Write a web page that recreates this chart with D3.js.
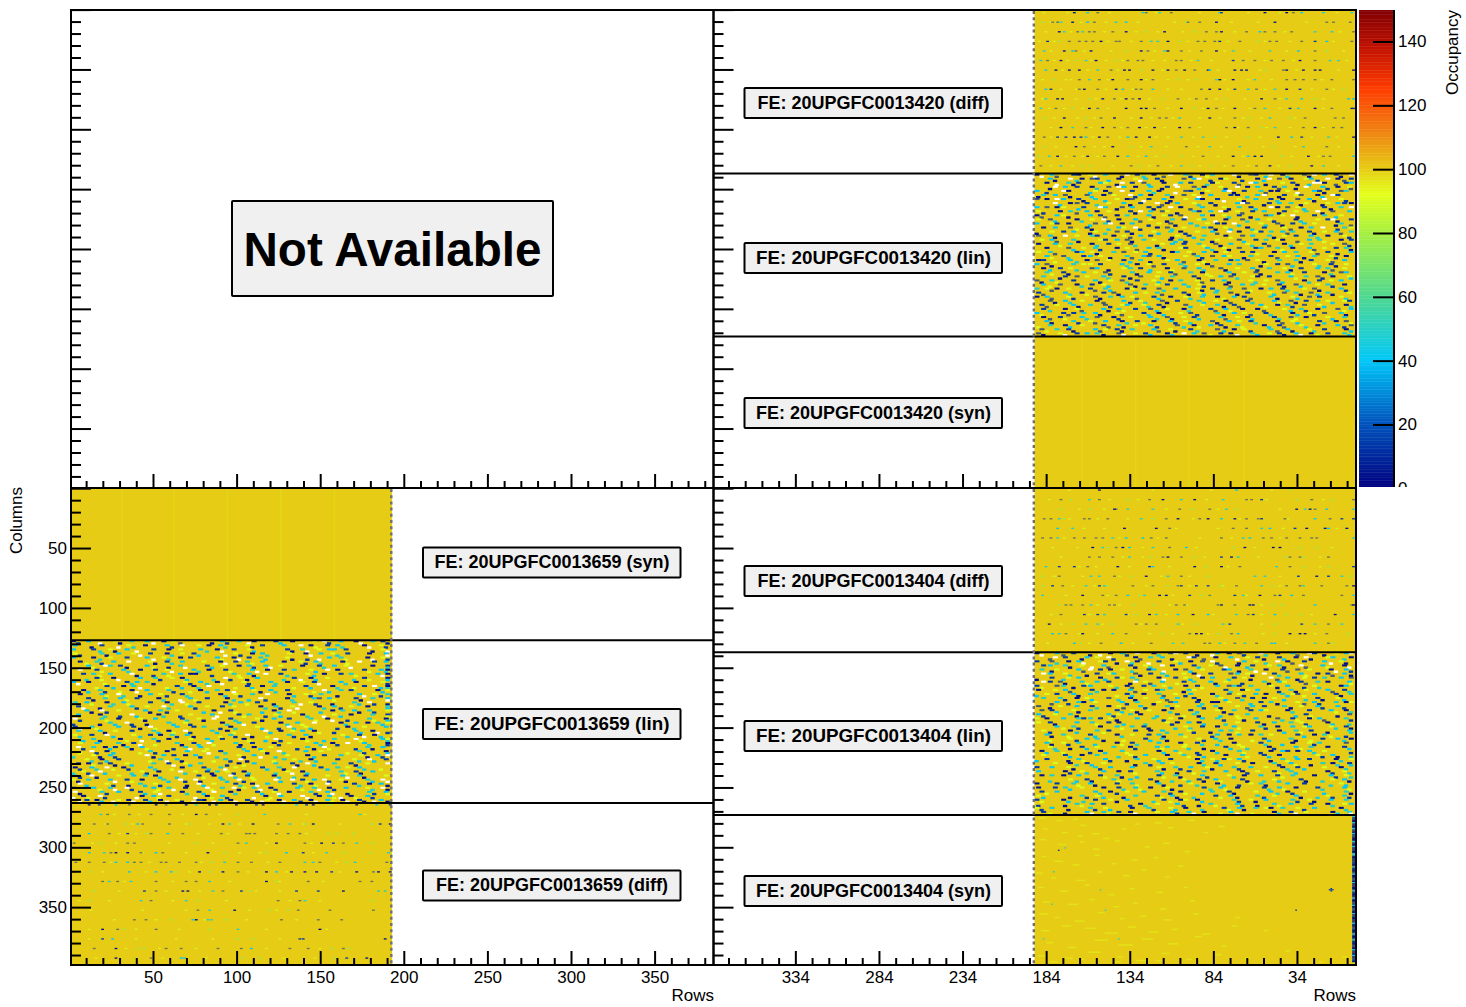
<!DOCTYPE html>
<html><head><meta charset="utf-8">
<script src="https://cdnjs.cloudflare.com/ajax/libs/d3/7.8.5/d3.min.js"></script>
<style>html,body{margin:0;padding:0;background:#fff}svg{display:block}text{font-family:"Liberation Sans",Arial,sans-serif}</style>
</head><body><svg id="c" width="1466" height="1007"></svg>
<script>
// ---- data (rows / columns / occupancy) ----
const xTickMajorLeft=[50,100,150,200,250,300,350];
const xTickMajorRight=[34,84,134,184,234,284,334];
const colTicksMajor=[0,50,100,150,200,250,300,350];
const paletteValues=[0,20,40,60,80,92,100,112,125,138,150];
const paletteColors=["#00007f","#0052bc","#00c8f8","#50d890","#a8f040","#e4ff1a","#e6cc14","#f08010","#ff3c00","#c01000","#7f0000"];
const occTicks=[0,20,40,60,80,100,120,140];
const baseOccupancy=100;
const classValue={a:4,b:14,c:26,d:40,e:48,f:76,g:90,h:10};
const feLabels=["FE: 20UPGFC0013420 (diff)","FE: 20UPGFC0013420 (lin)","FE: 20UPGFC0013420 (syn)","FE: 20UPGFC0013404 (diff)","FE: 20UPGFC0013404 (lin)","FE: 20UPGFC0013404 (syn)","FE: 20UPGFC0013659 (syn)","FE: 20UPGFC0013659 (lin)","FE: 20UPGFC0013659 (diff)"];
const bandRows=[1,9,17,25,33,41,49,57,65,73,81,89,97,105,113,121,129];
const diff420=[
"23a 31d 37h 64d 66h 74e 81h 110d 111b 137a 150a 154h 159d 172e 189e",
"4f 10h 13h 15e 22a 31d 35h 48e 54d 90f 91h 98h 108a 143a 174h 178h 188h",
"14a 17e 25h 28e 32h 35h 46h 54a 66f 77a 95f 102h 108h 111a 126h 134d 137h 143h 153h 167e 177e 191h",
"7b 14f 20h 26h 30h 34h 39a 48h 50h 63h 69e 73e 79a 86f 97h 101h 107h 110b 122h 133f 140h 144h 159h 167b 174d 189h",
"5e 17a 22d 24h 33a 54f 63a 67h 77e 79a 87h 99h 108a 118e 140e 157d 167h 174f",
"3e 7h 15a 24f 30e 36a 48f 55h 61h 64h 84h 87h 97e 118b 124h 131h 141h 148h 158a 167h 176e 181e",
"6d 12a 20a 26a 37e 45h 53a 56a 63f 70a 79a 84h 89a 95h 103a 104d 119a 123a 126a 137f 148h 150a 160a 167a 170a 191a",
"11f 26h 32e 38h 46a 55h 63a 70h 85f 96f 108e 110a 118a 131e 150h 155h 160h 167h 177h 190h",
"6d 9b 26h 29a 37h 48a 52d 60h 63h 70d 99h 104a 110a 119b 127d 132h 143e 150a 158b 174h 184f",
"6e 13a 16a 32f 40a 47h 54a 58h 62a 76f 85h 96h 102h 113f 135a 143h 150e 159d 167f 187d 191d",
"3e 12h 22f 32a 37h 54a 63a 66a 71h 87a 95f 103a 108h 119a 131h 137e 152b 157e 167a 177h 189a 191b",
"5f 17a 30f 39h 47a 63a 74h 78h 86e 104a 119h 127f 140e 152f 161h 179h 184h",
"15a 22e 30h 40a 47h 55h 62a 71a 86a 92h 114h 119a 127h 135f 143e 160h 167a 178h 183h",
"5h 13b 18b 23a 27b 30d 38a 43h 55d 60a 68a 87e 100e 107f 127f 145a 153d 159b 175e 191a",
"5f 24a 29h 46a 57f 69e 90h 104e 122e 142f 160e 174h 191f",
"2f 8e 13a 23h 31a 41h 49a 55d 66d 77f 87f 100h 118a 127d 131a 135a 147f 163a 172h 176h 191d",
"3h 15e 27f 33f 57h 62f 73h 87e 93f 105f 118h 132h 140a 152f 165a 172e 191f"];
const diff404=[
"38a 120d 152f",
"15h 21f 32e 38h 55f 68h 76a 87e 95a 112e 126h 129h 135b 156f 165h 177f 191h",
"15f 32f 47a 48h 55e 70e 86h 94f 104h 114e 120f 156a 161e 164a 167h 174d 191e",
"5h 9h 14e 17f 29h 32h 43h 63e 70f 78h 85a 98h 103a 111d 119a 126h 133h 135b 149h 167d 176h 183b 191b",
"13d 22e 53a 72a 80h 118h 126h 135e 140d 155b 162a 173a 175d 186a",
"4h 9h 13e 23h 29h 36h 40h 46e 54d 64d 69h 78h 111h 124e 128d 136h 141h 150h 158h 165h 168h 191e",
"34a 40e 43f 48h 52a 56d 70e 80h 90d 118f 125a 142a 146a 158f 168f",
"32h 38h 46h 56e 69f 76h 79a 87h 95f 111b 117a 121e 149f 152h 158h 160f 175h",
"6e 14b 23b 31h 49a 68b 70d 95a 102f 111a 122h 144e 152h 160f 175f 191b",
"4f 14h 33e 38e 47h 57f 66a 79e 87h 103f 131e 137e 157b 168a 175b 183e 188f",
"4f 10b 16h 30e 38b 41e 43f 58h 70h 79f 85h 87b 96b 103b 110f 120h 135e 142f 150h 158h 160e 171h 186h 191a",
"4e 28a 40h 48h 55d 62f 65e 74a 78a 92b 99f 104h 119b 124e 134a 143h 146b 153d 160h 183h 191e",
"14f 18h 21h 28h 33e 44h 47h 59f 70f 84h 89h 109h 111a 119h 128a 130a 142f 147f 167d 189h 191a",
"15h 29b 37b 41e 54b 60f 68a 72e 85d 94a 103d 120e 127h 130b 143d 150f 158f 179a 191e",
"8a 22f 30e 37e 46f 60h 66h 72h 85e 96f 112e 116b 143f 159b 167e 175h 183e",
"10d 14e 18h 28a 46d 54h 76f 92h 96a 99a 109f 117h 121d 143f 152a 158a 161a 174h 187f",
"23d 27f 39h 51d 69h 82e 88e 101h 104h 110e 119h 125e 132h 141d 143d 167e 175h 178f"];
const diff659=[
"10a 16b 26d 34h 50a 56h 68a 74e 82a 86b 98a 110b 114a 126f 134d 140b 144a 154f 170a 182d 190b",
"17e 21h 34h 47h 58h 80h 99f 115e 172e 74a",
"13h 21h 32f 39d 42h 58h 70f 90a 94e 108a 123h 130e 139f 144a 179f 184b 190a",
"10d 22h 33b 44f 47h 57d 66h 89h 104h 106h 109h 122h 129h 136h 153f 158f 168f",
"1h 17f 33h 37h 74f 99h 104e 122a 139h 149a 156b 162h 170e 179f",
"10d 19e 23h 26a 33a 41h 50d 54h 81a 91f 116f 128d 138b 152e 162f 178f 189d",
"2h 10h 19h 26d 33d 37h 41h 53h 56h 64h 74h 83f 91e 99h 107h 124h 139e 144e 148h 164f 169e 188h",
"1h 11f 34d 50d 59d 62f 76a 82f 90a 99h 116a 122d 131a 139a 146a 155b 170a 180h 183a 190a",
"18h 22e 27h 35e 50h 68h 74h 82e 116a 122f 141h 172h 179h",
"13f 43b 50h 66a 69a 84e 90h 101b 106f 134b 147b 162a 183e 187e",
"10f 41e 47h 68e 75f 123h 136h 139e 179f",
"75h 82e 97a 118f 129f 135h 154h 180h",
"37h 44h 59f 72d 74a 81e 83e 92f 125h 147h 161h",
"18a 27h 31f 50h 82f 99e 148a",
"18b 24d 99f 108f 136b 138b 187a",
"13h 26a 39f 43f 56h 65h 87h 101h 107d 130h 141h 155f 162h 165f",
"26a 38f 47h 65d 67d 102f 112f 157f 164b 176a"];
const lime420=[
"5 19 44 72 98 127 146 180","9 27 42 61 83 117 133 162","6 21 41 60 73 88 119 149 182","2 11 43 57 91 115 137 152 178","9 29 45 71 92 113 128 150 184",
"11 19 33 42 52 70 77 93 105 137 154 186","16 31 49 76 109 134 156 181","4 18 21 43 66 79 91 113 127 141 171","15 24 42 58 79 87 115 137 165 178",
"4 24 36 51 68 92 108 125 146 172","8 17 28 43 79 100 112 128 146 172","11 25 35 57 69 82 98 110 124 135 155","9 33 51 66 77 98 121 138 152 172",
"9 34 50 72 79 94 114 134 165 180","12 35 41 63 78 97 111 136 155 181","18 28 37 61 72 94 109 124 153 169","9 22 46 68 81 98 113 127 145 181"];
const lime404=["20 70 105 141","8 44 61 102 138 172","26 41 78 109 146","20 37 55 94 122 151","29 41 84 109 148 180","17 50 73 98 117 146","10 25 64 96 131 177","15 52 64 101 133 170","26 36 56 80 115 170","11 28 50 75 92 146","22 35 66 92 112 146","18 43 82 104 126","37 50 80 90 110 135","9 32 55 78 106 135 165","15 40 63 88 135","26 37 68 82 103 136 167","7 32 58 82 113 150"];
const lime659=["","25 40 66 88 140 175","20 36 68 82 100 138 160","28 38 75 93 140","12 26 58 84 116 143","42 68 100 112 144","23 46 77 117 158","18 44 70 105 128 160","31 60 94 124 150","28 56 76 110 124","4 22 60 92 130 148","11 42 68 106 122","25 50 79 104 134","10 38 64 116 152","10 38 62 84 124","32 52 74 116 148","14 54 80 126 145"];
const lin420=[
"aW.dH..ba.gW.d..Aw.bE.a.Hw..dB.aGd...wA.hb.Dw.aE..hAw.d.bA.w",
".B..aDw.h.a..gdB.w.aH.b..dA..wEa.hb.D.a..gWd.bA...h.dw.B.ag.",
"wa.H.bd..a.W.eAb...dg.Aw.b.hD..a.Wd.b..Eag..bH.wd.A..g.bA.Dw",
"..d.Ab.w..hDa..gB.w.a.d..bHe.A.w..dB.a.gH..Aw.d.b..aE.h.wd.a",
"a.g.W..dbA..he.d.B..wa...Dg.aH.w.b..dEa..W.hb.Ag..dwA.b..eHa",
".hD.a.g..wBd.a..eA.h.gW.d...ba.E.dw..Ab.gh..aD.wb...Ae.d.hA.",
"da..bW..gA.d..bEa..h.dA.w..gB.h.a.wd..bA.e.D.g.ah.Wb..dA..g.",
"..Ag.db.a...wD.ah.b.E.g..dA.b..wHa.d..gE.bA...dwh..Ab.d.e.Ag",
"b.w.a.H.d...gA.e.bD..wa.h.gD...bA.e.wd.h.ag..Db..we.Ah.d..bA",
".d..Ab.g.e.wA.h..d.gB..a.eH.d.a.g...bAw.d.hg.A..eb.d.wa.gH.b",
"gA...d.bH.a.e...dA.gb.hW..d.a.gE.b.A..hd.g.wA..b.e.Dg..aH..d",
"..bg.hD...aE.g.wB.a..dH.g..Ae.b..gd.W.a..hE.d.gB...aD..g.bwA",
"a.d..B.g.hA..dE.g.ba.wD...gE.hA.b.d.g...Ae.Hd..gb.a...Dh.ew.",
".gD..aE.b...gH.a.d.w..Be.g.a.d..hG.bA..E.dg.wB..a.hE.g...dbA",
"e..bA.g.dH.eA..g.b.d..Ag.E.h.bA...gD.e.aB.g..dH.w.a..gb.e.dH",
"..a.gH.d.b...Ag.bD.e...aG.h.d..eA.g.b..dE.a..gB.h.dA.w.g..eb",
"dB..e.Ag...hD.b.e.ga..H.d.eG..a.b.g.dH..eA...gb.d.hA.e.g..aD",
".g.hB.a..dG.e...aD.b.g.hE...Ag.d.b..eG.hA.d..gE.bH..aD.g.e..",
"a...hD.g.eB..a.g.H.d.eA..gb...dE.gA.h..bd..eG.a..dH.g.b.eA..",
".bG..a.d.e..gH.b.A..dg.eH...bd.gA..e.h.g.dB...ae.gH.d.a.g..b",
"h.dA...g.eB.h.dg..Ae...bH.g.dA.e..gB.a...dG.hE..bd.g.A..eH.d",
"..eA.b..gH.d..ab.G..dE.a.h.g..bD.e.A..g.dH..aG.e..bd.h.gA..e",
"g.b...dE.a.gH.b..eD.g.aH..d.e...Ag.b.hD...gE.bA.g.d.hA...e.g",
".hA.g..dB.e..gA.b..d.eH.g...aD.b.gE..hd.A..ge.b.D..aG.h..dE.",
"d...eG.bA..d.g.hB...eA.d.g.bH..e.aG...dB.g.hA..e.dG.b...aE.h",
".bA.h..gD.e...bA.g.d.hE..ga.b...dG.e.hB.a..gD.e..Ab.h.g..dE.",
"g.hD...aE.b.g.d..hA.eG..b...dA.g.hE.b..gD.a.e..gH.b.dA...gE.",
"..dE.gB...aH.d.e.g..bA.hD..g.eB.a...dG.h..aE.b.gD...hA.e.g.b",
"a.g...bH.eD..ag.b..hE.d...gA.bD.e..hG.a.d.bE..g.hA...dB.e.gH",
".hD.eA..g.bH...dE.aG..b.hA..d.g.eH...bA.gD.e..hA.b...gD.h.eA",
"e..aG.d.bH...eA..gD.h.b...gE.a.dH..gB...hA.e.d.gH..bD.a..gE.",
".gb...hA.dE.g..aH...dB.gE..hA.b...eD.g.aH..bE...dG.hA.b.e.gD",
"d..gE.bA...hD.g..eA.bH...dG.a.eB.h..gD...aE.bH.g..dA.e..hB.g",
".aH...gD.eB.a...hG.d.bE..a.gH...dA.eG.b..hD.g..aE...bH.dG.a.",
"b.e.dA..gH...bE.aD..g.hB...eA.d.gH..bE...aD.gB.h..eA.dG...bH",
"..gD.e...aH.bG..dE.h..aB.g...dE.hA.g.bD...eH.g.aD...bE.hG.a.",
"a..dB.gE...hA.d.g.bE...aH.gD...bE.a.hG..dA...eB.gH.d..aE.bG.",
".eG...aD.bH..gE.a...dB.hG.e..aD.g...bH.eA.g..dB...hE.aG.d.bA",
"g.bA.e...dH.gA..bE...hD.a.gB...eH.dA..gE.b...aD.hG.e.bA...dH",
".dW.aG.b..eD.hA..gW.b.d.eA..hW.g.bD..aE.w.d.hG.b.aW..eD.g.bA"];
const lin404=[
"aW..dH.b..A.W.a.dB.w..aE.hw.b.A..Wd.a.hB..wE.a..dH.wb.A.g.dw",
"..bD.a.wA..gd.E.a..Hw.b..Ad.g.wB...aH.e.d.A..wb.H.a..dW.g.bA",
"a.W.b..gD.a.h.wB...Ad.g.E.w.aH.b...dW.gA.b..hE.a.dW..gb.A.wE",
".dG..aW..bd..eA.g.W.dH...bA.gE.w.a...bD.g.hW.a.Db..g.eA..wH.",
"g...bd.A.eW.a..bH.h.g...aW.dB.e.Ag...dHw.b.a.g.E..bd.W.a.hD.",
".A.b.gd...hA.b.eD..g.aW.b...hd.gA.w.bE...dG.a.bH.d.A.wd..gE.",
"d.hA..b.Eg.d...aD.bg.dE...aW.b.gD.a.d..Eb.gA...wH.d.Ag.b.e..",
"..Gb.e..dA.g..B...eA.dg..bH.e.a...dG.wb.hA..eG.d.b...Aw.gH.d",
"b.e...gA.d..B.gE...ad.bG..he.A.bd...gE.aH.b.d.gE..a.bG..d.he",
".a..dH.g.be...Adg.....bE.ag.d...B.eA.g...dH.bE.a..g.dH...bEa",
"hG.d...bA.eD.g.b..dA.e....G.bD.a..eH.g.Bd...aE.h.gB.d.a..eDg",
"..eB.a.gD..h.E.bA.g..dH.e..bA...gD.hE.b.a.g.D...E.bA..gD...e",
"a.g...D.b.eA...gH.dB..e.ag...Hd.B.ea.g....dB.e..Ag.hd...bE.a",
".dB..h.A.g..d..bE.a.gH..dB...eAg...dB.eA..g.Hd.b...eA.g..dB.",
"g..aE...bD...gA.e..b.dg...aE..b...dG.aE.h.bD..gA.e....bD.gA.",
"...D.bG....A.h.dB.g..eA.....dBg.e.a..D...bG.eA...D.bG.e...A.",
"e.b.gA...d..e.Bg.a...d..eB..gA.d...hE.bG.a.dH...eBg.a..d..eb",
".aD...E.g...bA.d..e.gB...aD..E.g.bA...d..eG.b.aD...E...gBa.d",
"d...gE.bA....dG.eB...a..dG.e.bA....D.gE.b..a..dG...eB.a..d.g",
"..b..a.dE...gB..A.d.eG..b....aD.eG.b..A...dE.gB...aD...eGb..",
"a.e.g....bD.a.eG..B...dA.eG...bD...aE.g..b.dA..eG....Bd.a.e.",
".gB.d.eA...G...bD.eA.....gB.dE.a...G.bD...eA..G.b..dE.a..G..",
"h...dA.gB.e..D...aG.bE...d...aG.bE..D..aG...bE..D.a..gBe....",
".gE..A...bD.gE...aB...dG.e..a..bD...gE..A.bD.g..e..aB...dGe.",
"b.a.dE.g....B.aD.eG....B.aD..eG.....aD.eG..B..aD...eG..B.a.d",
"...E.gB.d...a..eG.bD...a..eG..bD.a..E...gB.dA..E.g...bD.a..e",
"g.dB....A.eG.d.b....aE.gD.b...A.eG...dB..A.e..gD.b....aE.gDb",
".aE.bD...g..aE.bD.g.....A.eB.d.g....aE.bD..g..a...eB.dG..A.e",
"d....gA.eB.d..gA...eB.d..g..aE.bD...g..aE.b..d..gA...eB.d...",
"..bG.eD.....aB.gE.d....aB.gE..d..a.bG...eD..A.bG.e...d..aB.g",
"e.a..d...bG.eA..D...bG.eA...dB...gE.a..d..bG.e...a..dB.gE.a.",
".dG...bA..E.gD...bA..E.g.dA...E...gD.bA...eG.d...bA..E.gD.bA",
"b....E.gD.a...b..eG.dA...b..eG...dA..B.gE...aD..B.g.eA...d..",
".gA.....bE.dG.a....bE.dG.a...bE...dG.a..b.eD.g...a..bE.dG.a.",
"....dE.aB.g..d...eB.aG..D.e..bA...g..dE.aB.g...D...eA.bG.d..",
".eB.gD....A.eB.gD...A.e...bG.dA..E...bG.dA...eB.g...dA..E.gB",
"g.aD.....eB.gA.d....eB.gA..d..e.bG...aD..E.b..gA.d....E.bG.a",
"...B.aE.g...dB..A.eG...dB..A..eG.d...b..aE.g.dB....A.eG.d.b.",
"a.e..gB.d....aE.gB.d..A...eB.gD...a..eB..gD.a..E...bG.dA.e.g",
".dW..G...aE.bW.g....aD.eW.bG..A...dW.eG.b.aW...g..dB.eW.a..G"];
const lin659=[
"aB.d.W..gA.e..dW.a.gH.....A.dB.e.Wa...bD.a...g.wB.d..aW.e.bG.A",
"..gA.b...d..w.aG.b.dE...aW.gB..d..A.b..W.gE.a...dB.w..g.a.dE.",
"d.b....A.gW.d...bE.gA.d.W..b..a.g...dE.aW.b..gD.....bA.eW.g.d",
"..aE.g.bD....W.gB.a.dE...g..aW.d.gE.b...a..dW.gB...eA.d..gW.b",
"W.gB.d...aE.g..b...dW.gE.a.b....dG.aW.b.eD...gA..B.W.d.eG...a",
".d...a..gB.dE...aG.w..b.d...aG.eB.d..w...gA.bE.d...g..aW.b.eG",
"e.bA...dG..A.eW...bD.g..a.eB.dW.g...a..bE.d.gW...a..bE...dG.w",
"..gD.w.a....bG.dE.a.w..bG...dE.a..b.gW...dE.a..bG...dW.a..b.e",
"a..B...eG.dA.w..bE...gD.a..b.eG...dW.a..b.eG.d...wA..B.eG.d.a",
".bG...aD..E.bG.aW...d..eB.g.aD....E.wB.gA.d....E.bW.aD.g....E",
"d.eA.....gB.dE.aW...gB...dE.a..g.bW...dE.a....gB.dW.a..G...bE",
"...G.bD...aE..G.b.wD.aE....G.bD.a.eW....G.bD.aE.w....G.bD.a.e",
"g...aD.eB..G.aW.d...eB..G.aD.e.bW...gA.dE.b....G.wD.e.b....aD",
".bE.....aD.gB.e..w...aD.gB.e..A...dW.gB.e..a...dG.wE..A.d.gB.",
"h.dG...bA.e..dW...bA.e..dG.b...aE..W.dG.b...aE..D.wB...aE...d",
"..aE.dG...b..aE.wG.b....aE.dG.b..A...eW.gB..A...eD.wB..A.e.dG",
"b.g....aE.dB.gW...aE.dB.g..a...eD.bW..A.e...dB.g..wE...dB.g..",
".dA.eB...g..dA.wB.g....dA.eB.g....D.aW.bG....D.aE.wG....D.a.e",
"e..B.gD...aE..W.gD.a...e..bG.d...aE..B.wD...aE..B.g...dW...bG",
"..gA.d....bE.gA.w..bE...gA.d..b...eG.aW..B...eG.aD.wB...eG.a.",
"a.eD.gB....A.eD.wB..A...eD.gB.....aE.dW.b....aE.dG.w....aE.d.",
"..B.aE...gD..B.wE.gD....B.aE.g...d..bW.eG...d..bA.wG...d..b.e",
"d.aG..B...eD.aW..B.e...dA.g..b...eD.aG.wB...eD.aG.....wD.a.g.",
".eB.dA....G.eB.wA..G...eB.dA.....gE.bW.aD...gE.b..wD...gE.b.a",
"g..D.eB...aG..W.eB.a...g..dE.b...aG..D.wB...aG..D.e...wG...dE",
".aB.g....dE.aB.w..dE...aB.g..d...eA.bW..G...eA.bD.wG...eA.b..",
"b.eA.dG....B.eW.dG.....bE.aD.g....B.eA.wG....B.eA.d...wB.e.aD",
"...G.eB...aD..G.wB.aD....G.eB.a...d..gW.bE...d..gA.wE...d..g.",
"a.dB..E...gA.dW..E.g...aD.b..e...gA.dB.wE...gA.dB.....wA.d.b.",
".gE.aD...b..gE.wD.b....gE.aD.b.....G.eW.dA.....G.eB.wA....G.e",
"h.bA.gD...e..bW.gD.e....B.aG.d...e..bA.wD...e..bA.g...w..b.aG",
".dE..G...aB.dE.wG.aB...dE..G.a...bD.eW.g....bD.eA.w....bD.e.g",
"e.gB.aD....E.gW.aD.....eG.bA.d....E.gB.wD....E.gB.a...wE.g.bA",
".aD..E...bG.aD.wE.bG...aD..E.b...g..dW.eA...g..dB.wA...g..d.e",
"d.wB.gA...eD.wW.gA.e...dW.bG.a...eD.wB.wA...eD.wB.g...wD.w.bG",
"..A.wD...gB..A.eD.gB....A.wD.g...bE.aW.d....bE.aG.w....bE.a.d",
"g.eW.aB...dG.eW.aB.d...gE.wA.b...dG.eW.wB...dG.eW.a...wG.e.wA",
".bD.gW...aE.bD.w..aE...bD.gW.a...eB.dW..A...eB.dG.wA...eB.d..",
"W.aG.dB....W.aG.wB.....Wa.dG.b....W.aG.dB....W.aG.d...wW.a.dG",
"a.Wd.aW.bA.Wg.aW.dB.aW.dG.aW.bA.Wd..A.Wb.aD.Wg.aW.bD.aW.gA.Wb"];
// hand-typed row offsets for the speckle rows above
const shift420=[0,23,7,41,15,52,30,9,37,19,55,3,44,26,12,48,33,6,58,21,39,14,50,27,2,45,17,35,56,10,29,4,43,20,53,8,38,24,47,13];
const shift404=[0,17,41,8,29,52,3,36,22,47,11,58,26,5,39,15,50,31,9,44,20,55,2,34,13,48,24,6,42,18,57,28,10,37,53,4,32,46,16,25];
const shift659=[0,31,12,46,5,27,54,19,38,8,49,23,2,42,15,57,33,10,28,51,6,36,18,44,1,25,53,13,40,21,56,9,34,47,16,3,29,50,11,37];
const syn659Columns=[30,61,93,125,157];
const syn420Columns=[28,60,92,125];
const syn404Streaks=[
"2:2:5","13:4:4","23:3:3","27:8:4","5:11:3","16:14:4","26:17:3","34:15:5","41:19:4","52:11:3","60:7:3","72:6:4","80:10:3","92:4:4","101:14:3","110:9:4",
"3:20:4","14:24:5","27:22:3","35:28:4","48:21:3","66:26:3","77:23:4","90:30:3","4:34:3","12:38:5","23:41:4","36:33:3","46:40:3","58:37:4","71:35:3","86:42:3",
"1:48:4","10:52:3","25:54:5","38:47:3","53:50:4","64:45:3","78:51:3","2:60:4","15:63:5","30:58:3","44:66:4","57:61:3","73:64:4","89:60:3","5:72:4","20:74:6",
"33:70:3","47:76:4","59:73:3","75:78:4","93:71:3","3:82:5","12:85:3","24:88:6","38:81:4","51:86:3","63:84:4","77:87:5","95:82:3","120:85:3","4:96:5","16:92:6",
"30:94:7","42:98:8","56:93:5","68:97:6","82:95:4","100:99:5","118:92:3","137:96:3","7:106:4","20:110:5","36:104:8","50:108:9","64:103:7","80:107:6","96:101:4","112:109:3",
"2:117:6","18:119:5","32:114:8","49:118:4","61:121:6","76:115:5","91:120:3","108:116:4","126:119:3","150:113:3","9:122:5","27:120:3","48:122:4","73:121:3","170:122:3","184:118:3"];
const syn404Outliers=["14:29:h","18:27:d","177:62:b","176:62:b","178:62:b","177:61:b","177:63:b","156:79:h","39:62:e","42:79:e","10:74:e","11:47:d","50:103:e","5:103:e"];
const syn404Edge="bdabaadbaabdbaadbbaaabdaabdaabaaddaabaabbaadabaabdaaabbadaabaabdabaaadbaabadaabbaadabaabaadbaabbaaadbaabdabaabaadbaabdaabba";

// ---- scales ----
const svg=d3.select("#c");
const xL=d3.scaleLinear().domain([0,384]).range([69.4,711.45]);
const xR=d3.scaleLinear().domain([0,384]).range([1353.8,711.75]);
const yT=d3.scaleLinear().domain([0,400]).range([9.6,488.4]);
const yB=d3.scaleLinear().domain([0,400]).range([488.2,967]);
const color=d3.scaleLinear().domain(paletteValues).range(paletteColors).clamp(true);
const occY=d3.scaleLinear().domain([0,150]).range([488.3,9.6]);

const leftCell=u=>xL(u+1), rightCell=u=>xR(191-u);
const cw=1.672, ch=1.197;
const g=svg.append("g");

function fill(cellX,y,c0,n){g.append("rect").attr("x",cellX(0)).attr("y",y(c0)).attr("width",cw*192).attr("height",y(c0+n)-y(c0)).attr("fill",color(baseOccupancy));}
function specks(cellX,y,c0,rows,limes){
  const d=[];
  limes.forEach((s,i)=>s.split(" ").filter(Boolean).forEach(t=>d.push({u:+t,c:c0+bandRows[i],k:"g"})));
  rows.forEach((s,i)=>s.split(" ").forEach(t=>{const m=t.match(/(\d+)([a-z])/);d.push({u:+m[1],c:c0+bandRows[i],k:m[2]});}));
  g.append("g").selectAll("rect").data(d).join("rect")
    .attr("x",k=>cellX(Math.min(k.u,190))).attr("y",k=>y(k.c)).attr("width",cw*1.7).attr("height",ch*1.1)
    .attr("fill",k=>color(classValue[k.k])).attr("opacity",k=>k.k==="h"?.55:(k.k==="g"?.8:1));
}
function speckle(cellX,y,c0,rows,shifts){
  const d=[];rows.forEach((s0,r)=>{const s=s0.slice(shifts[r])+s0.slice(0,shifts[r]);for(let i=0;i<s.length;i++){const c1=s[i];if(c1===".")continue;const low=c1.toLowerCase();
    d.push({u:Math.floor(i*3.2+(r%2)*1.6),c:c0+r*3.4+(c1!==low?1.7:0),k:low,upper:c1!==low});}});
  g.append("g").selectAll("rect").data(d).join("rect")
    .attr("x",k=>cellX(Math.min(k.u,188)))
    .attr("y",k=>y(Math.min(k.c,c0+134)))
    .attr("width",k=>cw*(k.upper?2.6:3)).attr("height",k=>ch*(k.upper?2:1.7))
    .attr("fill",k=>k.k==="w"?"#fff":color(classValue[k.k])).attr("opacity",k=>k.k==="h"?.7:1);
}
function synColumns(cellX,y,c0,n,cols){g.append("g").selectAll("rect").data(cols).join("rect").attr("x",u=>cellX(u)).attr("y",y(c0)).attr("width",cw).attr("height",y(c0+n)-y(c0)).attr("fill",color(95)).attr("opacity",.3);}

// top right (420)
fill(rightCell,yT,1,136);fill(rightCell,yT,137,136);fill(rightCell,yT,273,127);
specks(rightCell,yT,1,diff420,lime420);speckle(rightCell,yT,137,lin420,shift420);synColumns(rightCell,yT,273,127,syn420Columns);
// bottom right (404)
fill(rightCell,yB,0,137);fill(rightCell,yB,137,136);fill(rightCell,yB,273,125);
specks(rightCell,yB,0,diff404,lime404);speckle(rightCell,yB,137,lin404,shift404);
g.append("g").selectAll("rect").data(syn404Streaks.map(s=>s.split(":").map(Number))).join("rect")
  .attr("x",d=>rightCell(d[0])).attr("y",d=>yB(273+d[1])).attr("width",d=>d[2]*cw).attr("height",ch*1.3).attr("fill",color(91)).attr("opacity",.42);
g.append("g").selectAll("rect").data(syn404Outliers.map(s=>s.split(":"))).join("rect")
  .attr("x",d=>rightCell(+d[0])).attr("y",d=>yB(273+ +d[1])).attr("width",cw).attr("height",ch).attr("fill",d=>color(classValue[d[2]]));
g.append("g").selectAll("rect").data(syn404Edge.split("")).join("rect")
  .attr("x",rightCell(190)).attr("y",(d,i)=>yB(273+i)).attr("width",cw*2).attr("height",ch).attr("fill",d=>color(classValue[d]));
// bottom left (659)
fill(leftCell,yB,0,127);fill(leftCell,yB,127,136);fill(leftCell,yB,263,135);
synColumns(leftCell,yB,0,127,syn659Columns);speckle(leftCell,yB,127,lin659,shift659);specks(leftCell,yB,263,diff659,lime659);

// separators
const sepsT=[137,273],sepsBR=[137,273],sepsBL=[127,263];
const line=(x1,x2,yv)=>g.append("line").attr("x1",x1).attr("x2",x2).attr("y1",yv).attr("y2",yv).attr("stroke","#000").attr("stroke-width",2);
sepsT.forEach(c=>line(713.5,1356,yT(c)));
sepsBR.forEach(c=>line(713.5,1356,yB(c)));
sepsBL.forEach(c=>line(71,713.5,yB(c)));
const dots=(x,y1,y2)=>g.append("line").attr("x1",x).attr("x2",x).attr("y1",y1).attr("y2",y2).attr("stroke","#6f6f6f").attr("stroke-width",2.4).attr("stroke-dasharray","3 3.2");
dots(1033.8,11,487);dots(1033.8,489,964);dots(391.3,489,964);

// axes
const font=s=>s.attr("font-family","'Liberation Sans',Arial,sans-serif").attr("font-size",17).attr("fill","#000");
function tickStyle(a){a.select(".domain").remove();a.selectAll("line").attr("stroke","#000").attr("stroke-width",2);a.selectAll("text").attr("font-family","'Liberation Sans',Arial,sans-serif").attr("font-size",17).attr("fill","#000");}
const minorOf=(start,stop,step,major)=>d3.range(start,stop,step).filter(v=>!major.includes(v));
function xAxes(scale,major,minor,yPos,labels){
  tickStyle(svg.append("g").attr("transform",`translate(0,${yPos})`).call(d3.axisBottom(scale).tickValues(minor).tickSize(-7).tickFormat("")));
  tickStyle(svg.append("g").attr("transform",`translate(0,${yPos})`).call(d3.axisBottom(scale).tickValues(major).tickSize(-14).tickPadding(6).tickFormat(labels?d3.format("d"):"")));
}
function yAxes(scale,xPos,labels){
  const minor=minorOf(0,400,10,colTicksMajor);
  tickStyle(svg.append("g").attr("transform",`translate(${xPos},0)`).call(d3.axisLeft(scale).tickValues(minor).tickSize(-10).tickFormat("")));
  tickStyle(svg.append("g").attr("transform",`translate(${xPos},0)`).call(d3.axisLeft(scale).tickValues(colTicksMajor).tickSize(-20).tickPadding(4).tickFormat(v=>labels&&v>0?v:"")));
}
const minL=minorOf(10,390,10,xTickMajorLeft), minR=minorOf(4,384,10,xTickMajorRight);
xAxes(xL,xTickMajorLeft,minL,488,false);xAxes(xR,xTickMajorRight,minR,488,false);
xAxes(xL,xTickMajorLeft,minL,965,true);xAxes(xR,xTickMajorRight,minR,965,true);
yAxes(yT,71,false);yAxes(yT,713.5,false);yAxes(yB,71,true);yAxes(yB,713.5,false);

// frames
[[71,10,642.5,478],[713.5,10,642.5,478],[71,488,642.5,477],[713.5,488,642.5,477]].forEach(r=>svg.append("rect").attr("x",r[0]).attr("y",r[1]).attr("width",r[2]).attr("height",r[3]).attr("fill","none").attr("stroke","#000").attr("stroke-width",2));

// axis titles
font(svg.append("text")).attr("x",714).attr("y",1001).attr("text-anchor","end").text("Rows");
font(svg.append("text")).attr("x",1356).attr("y",1001).attr("text-anchor","end").text("Rows");
font(svg.append("text")).attr("transform","translate(22,487) rotate(-90)").attr("text-anchor","end").text("Columns");
font(svg.append("text")).attr("transform","translate(1458,10) rotate(-90)").attr("text-anchor","end").text("Occupancy");

// labels
const labelBoxes=[[744.5,88],[744.5,243],[744.5,398],[744.5,566],[744.5,721],[744.5,876],[423,547.5],[423,709],[423,870.5]];
feLabels.forEach((t,i)=>{const b=labelBoxes[i];
  svg.append("rect").attr("x",b[0]).attr("y",b[1]).attr("width",257.5).attr("height",30).attr("fill","#f0f0f0").attr("stroke","#000").attr("stroke-width",2).attr("rx",1);
  svg.append("text").attr("x",b[0]+129).attr("y",b[1]+20.5).attr("text-anchor","middle").attr("font-weight","bold").attr("font-size",t.includes("(lin)")?18.8:18).attr("fill","#000").text(t);
});
svg.append("rect").attr("x",232).attr("y",201).attr("width",321).attr("height",95).attr("fill","#f0f0f0").attr("stroke","#000").attr("stroke-width",2).attr("rx",1);
svg.append("text").attr("x",392.5).attr("y",266).attr("text-anchor","middle").attr("font-weight","bold").attr("font-size",47.6).attr("fill","#000").text("Not Available");

// colour bar
const defs=svg.append("defs");
defs.append("clipPath").attr("id","barClip").append("rect").attr("x",1340).attr("y",10).attr("width",120).attr("height",477);
const bar=svg.append("g").attr("clip-path","url(#barClip)");
bar.selectAll("rect").data(d3.range(0,150,0.5)).join("rect").attr("x",1359).attr("width",35).attr("y",v=>occY(v+0.5)).attr("height",occY(0)-occY(0.5)+0.4).attr("fill",v=>color(v));
const occAxis=bar.append("g").attr("transform","translate(1394,0)").call(d3.axisRight(occY).tickValues(occTicks).tickSize(-21).tickPadding(4).tickFormat(d3.format("d")));
occAxis.select(".domain").remove();
occAxis.selectAll("line").attr("stroke","#000").attr("stroke-width",2);
occAxis.selectAll("text").attr("x",4).attr("font-family","'Liberation Sans',Arial,sans-serif").attr("font-size",17).attr("fill","#000");
bar.append("line").attr("x1",1394).attr("x2",1394).attr("y1",10).attr("y2",487).attr("stroke","#000").attr("stroke-width",2);
</script></body></html>
